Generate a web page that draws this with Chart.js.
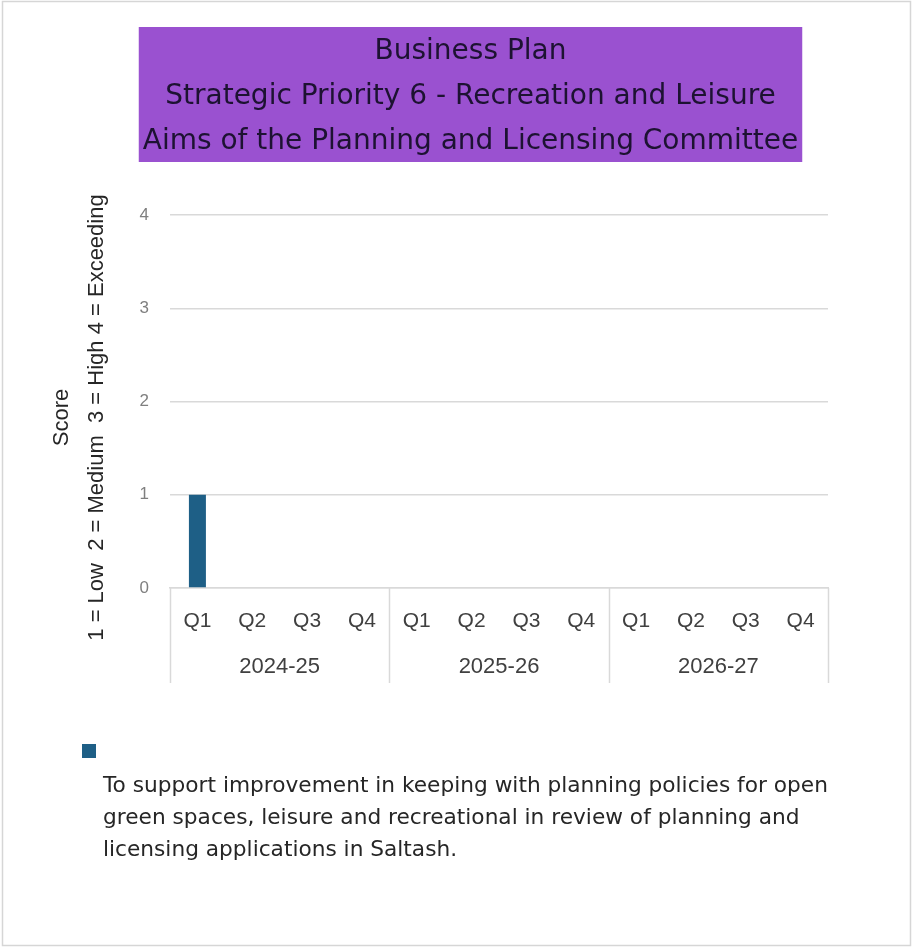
<!DOCTYPE html>
<html>
<head>
<meta charset="utf-8">
<title>Business Plan – Strategic Priority 6</title>
<script src="https://cdn.jsdelivr.net/npm/chart.js@4"></script>
<style>
  html, body { margin: 0; padding: 0; background: #ffffff; }
  #wrap { width: 913px; height: 948px; }
  canvas { display: block; }
</style>
</head>
<body>
<div id="wrap"><canvas id="chart" width="913" height="948"></canvas></div>
<script>
// ---- data ----
const quarters = ['Q1', 'Q2', 'Q3', 'Q4', 'Q1', 'Q2', 'Q3', 'Q4', 'Q1', 'Q2', 'Q3', 'Q4'];
const years = ['2024-25', '2025-26', '2026-27'];
const quartersPerYear = 4;
const scores = [1, null, null, null, null, null, null, null, null, null, null, null];
const scoreMin = 0;
const scoreMax = 4;
const scoreStep = 1;

// ---- text ----
const titleLines = [
  'Business Plan',
  'Strategic Priority 6 - Recreation and Leisure',
  'Aims of the Planning and Licensing Committee'
];
const yTitleLines = ['Score', '1 = Low  2 = Medium  3 = High 4 = Exceeding'];
const seriesLabelLines = [
  'To support improvement in keeping with planning policies for open',
  'green spaces, leisure and recreational in review of planning and',
  'licensing applications in Saltash.'
];

// ---- styling ----
const BAR_COLOR = '#1e5f86';
const TITLE_BG = '#9a51d0';
const TITLE_INK = '#1d1232';
const GRID = '#d9d9d9';
const LABEL_INK = '#404040';
const TEXT_FONT = "'DejaVu Sans', 'Liberation Sans', sans-serif";
const AXIS_FONT = "'Liberation Sans', Arial, sans-serif";

// white page with a thin grey frame
const framePlugin = {
  id: 'frame',
  beforeDraw(chart) {
    const { ctx, width, height } = chart;
    ctx.save();
    ctx.fillStyle = '#ffffff';
    ctx.fillRect(0, 0, width, height);
    ctx.strokeStyle = '#d6d6d6';
    ctx.lineWidth = 1.5;
    ctx.strokeRect(2.5, 1.5, width - 5, height - 4);
    ctx.restore();
  }
};

// purple band behind the chart title, sized to the longest title line
const titleBandPlugin = {
  id: 'titleBand',
  beforeDraw(chart) {
    const tb = chart.titleBlock;
    if (!tb) return;
    const opts = chart.options.plugins.title;
    const font = Chart.helpers.toFont(opts.font);
    const pad = Chart.helpers.toPadding(opts.padding);
    const ctx = chart.ctx;
    ctx.save();
    ctx.font = font.string;
    let w = 0;
    opts.text.forEach(t => { w = Math.max(w, ctx.measureText(t).width); });
    const cx = (tb.left + tb.right) / 2;
    const bandW = w + 8;
    const top = tb.top + pad.top - 2;
    const h = opts.text.length * font.lineHeight;
    ctx.fillStyle = TITLE_BG;
    ctx.fillRect(cx - bandW / 2, top, bandW, h);
    ctx.restore();
  }
};

// rotated two-line value-axis title, set slightly below the axis centre
const yTitlePlugin = {
  id: 'yTitle',
  afterDraw(chart) {
    const y = chart.scales.y;
    const ctx = chart.ctx;
    const cy = (y.top + y.bottom) / 2 + 16;
    ctx.save();
    ctx.fillStyle = '#262626';
    ctx.font = "22px " + AXIS_FONT;
    ctx.textAlign = 'center';
    ctx.textBaseline = 'middle';
    yTitleLines.forEach((line, i) => {
      ctx.save();
      ctx.translate(62 + i * 35, cy);
      ctx.rotate(-Math.PI / 2);
      ctx.fillText(line, 0, 0);
      ctx.restore();
    });
    ctx.restore();
  }
};

// vertical separators between the year groups, under the category axis
const groupLinesPlugin = {
  id: 'groupLines',
  afterDraw(chart) {
    const x = chart.scales.x;
    const x2 = chart.scales.x2;
    const ctx = chart.ctx;
    ctx.save();
    ctx.strokeStyle = GRID;
    ctx.lineWidth = 1.5;
    for (let g = 0; g <= years.length; g++) {
      const px = Math.round(x.getPixelForValue(g * quartersPerYear - 0.5)) + 0.5;
      ctx.beginPath();
      ctx.moveTo(px, x.top);
      ctx.lineTo(px, x2.bottom);
      ctx.stroke();
    }
    ctx.restore();
  }
};

// legend: colour swatch with the wrapped series description beneath it
const legendPlugin = {
  id: 'blockLegend',
  afterDraw(chart) {
    const ds = chart.data.datasets[0];
    const base = chart.scales.x2.bottom;
    const ctx = chart.ctx;
    ctx.save();
    ctx.fillStyle = ds.backgroundColor;
    ctx.fillRect(82, base + 61, 14, 14);
    ctx.fillStyle = '#262626';
    ctx.font = "21.7px " + TEXT_FONT;
    ctx.textBaseline = 'middle';
    ctx.textAlign = 'left';
    seriesLabelLines.forEach((line, i) => {
      ctx.fillText(line, 103, base + 103 + i * 32);
    });
    ctx.restore();
  }
};

const axisTickFont = { family: AXIS_FONT, size: 21 };

new Chart(document.getElementById('chart'), {
  type: 'bar',
  data: {
    labels: quarters,
    datasets: [{
      label: seriesLabelLines.join(' '),
      data: scores,
      backgroundColor: BAR_COLOR,
      borderWidth: 0,
      barPercentage: 0.31,
      categoryPercentage: 1.0
    }]
  },
  options: {
    responsive: false,
    animation: false,
    devicePixelRatio: 1,
    layout: { padding: { left: 28, right: 0, top: 0, bottom: 265 } },
    plugins: {
      legend: { display: false },
      tooltip: { enabled: false },
      title: {
        display: true,
        text: titleLines,
        color: TITLE_INK,
        font: { family: TEXT_FONT, size: 28, weight: 'normal', lineHeight: '45px' },
        padding: { top: 29, bottom: 51 }
      }
    },
    scales: {
      x: {
        type: 'category',
        position: 'bottom',
        offset: true,
        grid: { display: false, drawTicks: false },
        border: { display: true, color: GRID, width: 1.5 },
        ticks: { color: LABEL_INK, font: axisTickFont, padding: 21, autoSkip: false, maxRotation: 0 },
        afterFit(s) { s.height = 50; }
      },
      x2: {
        type: 'category',
        position: 'bottom',
        labels: years,
        offset: true,
        grid: { display: false, drawTicks: false },
        border: { display: false },
        ticks: { color: LABEL_INK, font: { family: AXIS_FONT, size: 22 }, padding: 16, autoSkip: false, maxRotation: 0 },
        afterFit(s) { s.height = 45; }
      },
      y: {
        min: scoreMin,
        max: scoreMax,
        ticks: { stepSize: scoreStep, color: '#7f7f7f', font: { family: AXIS_FONT, size: 17 }, padding: 21 },
        grid: { color: GRID, lineWidth: 1.5, drawTicks: false },
        border: { display: false },
        title: { display: false },
        afterFit(s) { s.width = 142; }
      },
      yRight: {
        position: 'right',
        display: true,
        grid: { display: false, drawTicks: false },
        border: { display: false },
        ticks: { display: false },
        afterFit(s) { s.width = 85; }
      }
    }
  },
  plugins: [framePlugin, titleBandPlugin, yTitlePlugin, groupLinesPlugin, legendPlugin]
});
</script>
</body>
</html>
